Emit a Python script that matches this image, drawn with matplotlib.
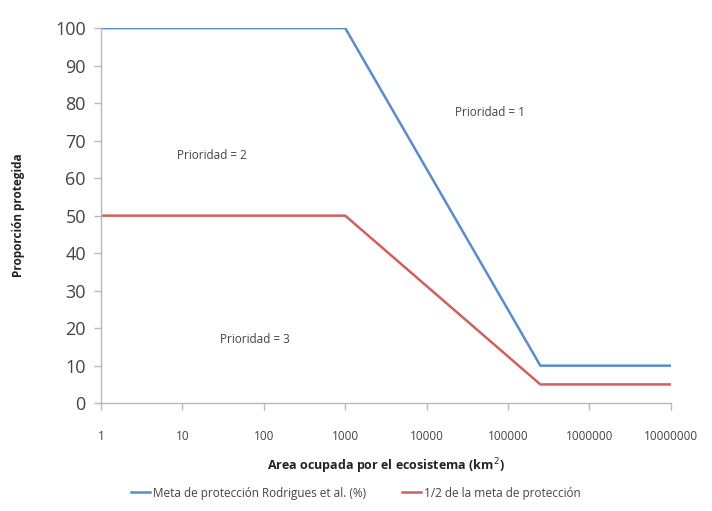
import matplotlib
matplotlib.use("Agg")
import matplotlib.pyplot as plt
from matplotlib.ticker import FixedLocator, NullLocator

plt.rcParams['font.family'] = ['Open Sans', 'DejaVu Sans']

# Data: area (km2) vs proportion protected
area = [1, 1000, 250000, 10000000]
meta = [100, 100, 10, 10]
meta_half = [50, 50, 5, 5]

x_ticks = [1, 10, 100, 1000, 10000, 100000, 1000000, 10000000]
x_tick_labels = ["1", "10", "100", "1000", "10000", "100000", "1000000", "10000000"]
y_ticks = [0, 10, 20, 30, 40, 50, 60, 70, 80, 90, 100]

BLUE = "#5a8ccc"
RED = "#d0605c"
GRID = "#b8b8b8"

fig = plt.figure(figsize=(7.12, 5.11), dpi=100)
ax = fig.add_axes([0.142, 0.211, 0.800, 0.734])

ax.plot(area, meta, color=BLUE, linewidth=1.8,
        label="Meta de protección Rodrigues et al. (%)")
ax.plot(area, meta_half, color=RED, linewidth=1.8,
        label="1/2 de la meta de protección")

ax.set_xscale("log")
ax.set_xlim(1, 10000000)
ax.set_ylim(0, 100)
ax.xaxis.set_major_locator(FixedLocator(x_ticks))
ax.xaxis.set_minor_locator(NullLocator())
ax.set_xticklabels(x_tick_labels)
ax.set_yticks(y_ticks)

for side in ("top", "right"):
    ax.spines[side].set_visible(False)
for side in ("left", "bottom"):
    ax.spines[side].set_color(GRID)
    ax.spines[side].set_linewidth(1)
ax.tick_params(axis="y", labelsize=13, colors=GRID, labelcolor="#444444",
               length=5, width=1, pad=6)
ax.tick_params(axis="x", labelsize=8.5, colors=GRID, labelcolor="#444444",
               length=5, width=1, pad=14)

ax.text(60000, 77.5, "Prioridad = 1", fontsize=8.5, color="#444444",
        ha="center", va="center")
ax.text(23, 66, "Prioridad = 2", fontsize=8.5, color="#444444",
        ha="center", va="center")
ax.text(78, 17, "Prioridad = 3", fontsize=8.5, color="#444444",
        ha="center", va="center")

ax.set_ylabel("Proporción protegida", fontsize=8.5, fontweight="bold",
              color="#222222", labelpad=22)
ax.set_xlabel("Area ocupada por el ecosistema (km$^2$)", fontsize=9,
              fontweight="bold", color="#222222", labelpad=10)

fig.legend(loc="center", bbox_to_anchor=(0.5, 0.035), ncol=2, frameon=False,
           fontsize=8.5, handlelength=1.6, handletextpad=0.3, columnspacing=3,
           labelcolor="#444444")

fig.savefig("out.png", dpi=100, facecolor="white")
